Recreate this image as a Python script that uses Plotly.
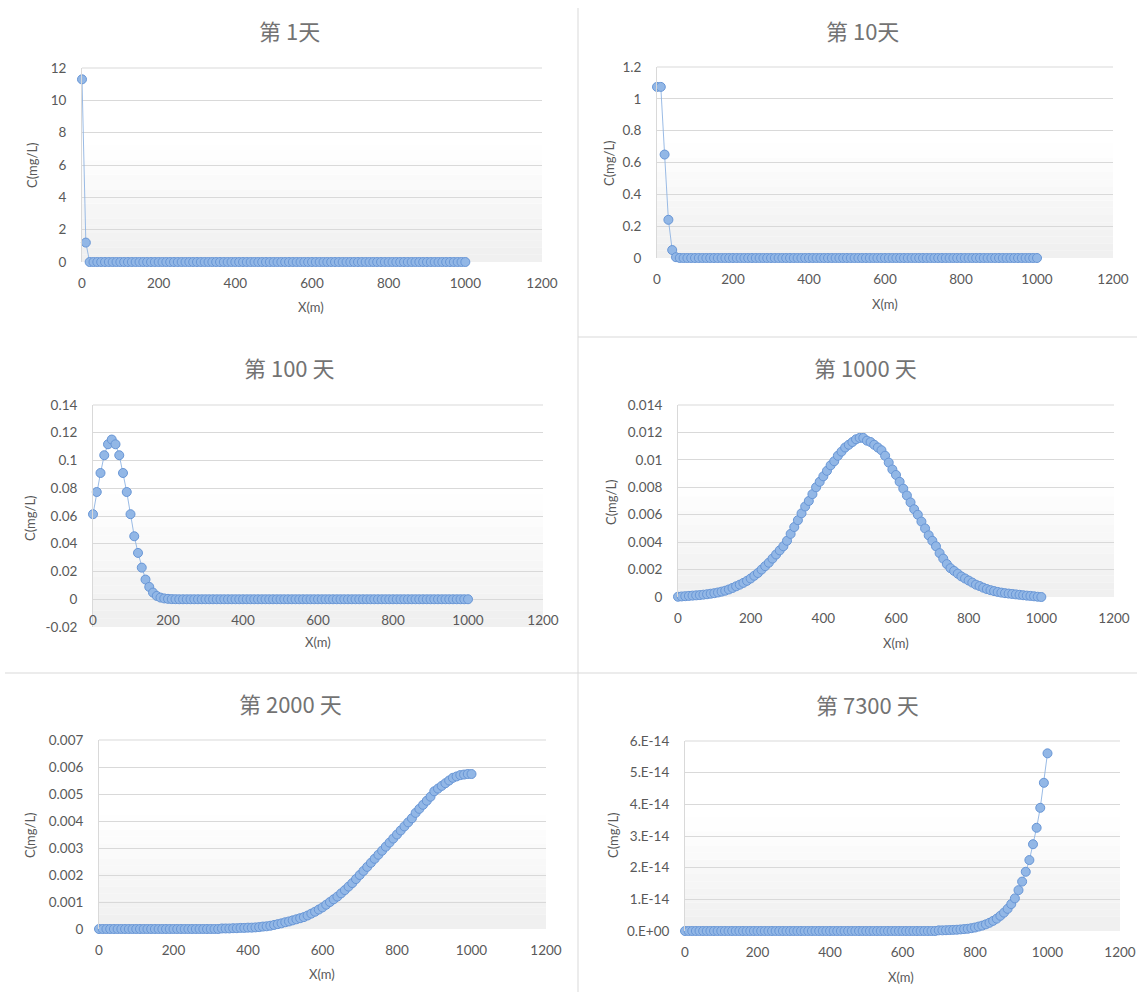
import plotly.graph_objects as go

# ---------------- data ----------------
x_m = [0, 10, 20, 30, 40, 50, 60, 70, 80, 90,
       100, 110, 120, 130, 140, 150, 160, 170, 180, 190,
       200, 210, 220, 230, 240, 250, 260, 270, 280, 290,
       300, 310, 320, 330, 340, 350, 360, 370, 380, 390,
       400, 410, 420, 430, 440, 450, 460, 470, 480, 490,
       500, 510, 520, 530, 540, 550, 560, 570, 580, 590,
       600, 610, 620, 630, 640, 650, 660, 670, 680, 690,
       700, 710, 720, 730, 740, 750, 760, 770, 780, 790,
       800, 810, 820, 830, 840, 850, 860, 870, 880, 890,
       900, 910, 920, 930, 940, 950, 960, 970, 980, 990,
       1000]

c_day1 = [11.3, 1.2, 0, 0, 0, 0, 0, 0, 0, 0,
          0, 0, 0, 0, 0, 0, 0, 0, 0, 0,
          0, 0, 0, 0, 0, 0, 0, 0, 0, 0,
          0, 0, 0, 0, 0, 0, 0, 0, 0, 0,
          0, 0, 0, 0, 0, 0, 0, 0, 0, 0,
          0, 0, 0, 0, 0, 0, 0, 0, 0, 0,
          0, 0, 0, 0, 0, 0, 0, 0, 0, 0,
          0, 0, 0, 0, 0, 0, 0, 0, 0, 0,
          0, 0, 0, 0, 0, 0, 0, 0, 0, 0,
          0, 0, 0, 0, 0, 0, 0, 0, 0, 0,
          0]

c_day10 = [1.075, 1.075, 0.65, 0.24, 0.05, 0.005, 0.0003, 0, 0, 0,
           0, 0, 0, 0, 0, 0, 0, 0, 0, 0,
           0, 0, 0, 0, 0, 0, 0, 0, 0, 0,
           0, 0, 0, 0, 0, 0, 0, 0, 0, 0,
           0, 0, 0, 0, 0, 0, 0, 0, 0, 0,
           0, 0, 0, 0, 0, 0, 0, 0, 0, 0,
           0, 0, 0, 0, 0, 0, 0, 0, 0, 0,
           0, 0, 0, 0, 0, 0, 0, 0, 0, 0,
           0, 0, 0, 0, 0, 0, 0, 0, 0, 0,
           0, 0, 0, 0, 0, 0, 0, 0, 0, 0,
           0]

c_day100 = [0.0613, 0.0773, 0.091, 0.1038, 0.1117, 0.1151, 0.1117, 0.1038, 0.091, 0.0773,
            0.0613, 0.0454, 0.0334, 0.0228, 0.0142, 0.0089, 0.0048, 0.0024, 0.0012, 0.0006,
            0.0003, 0.0001, 0.00005, 0, 0, 0, 0, 0, 0, 0,
            0, 0, 0, 0, 0, 0, 0, 0, 0, 0,
            0, 0, 0, 0, 0, 0, 0, 0, 0, 0,
            0, 0, 0, 0, 0, 0, 0, 0, 0, 0,
            0, 0, 0, 0, 0, 0, 0, 0, 0, 0,
            0, 0, 0, 0, 0, 0, 0, 0, 0, 0,
            0, 0, 0, 0, 0, 0, 0, 0, 0, 0,
            0, 0, 0, 0, 0, 0, 0, 0, 0, 0,
            0]

c_day1000 = [0.00002, 0.00004, 0.00006, 0.00008, 0.0001, 0.00012, 0.00014, 0.00017, 0.0002, 0.00024,
             0.00028, 0.00033, 0.00039, 0.00046, 0.00055, 0.00066, 0.00078, 0.0009, 0.00103, 0.00118,
             0.00135, 0.00155, 0.00175, 0.002, 0.00225, 0.0025, 0.0028, 0.0031, 0.0034, 0.0037,
             0.0041, 0.0046, 0.0051, 0.0056, 0.0061, 0.0066, 0.007, 0.0075, 0.008, 0.0084,
             0.0088, 0.0092, 0.0096, 0.0099, 0.0103, 0.0106, 0.0109, 0.0111, 0.0113, 0.0115,
             0.0116, 0.0116, 0.0114, 0.0113, 0.0111, 0.0109, 0.0107, 0.0103, 0.0098, 0.0093,
             0.0089, 0.0084, 0.0079, 0.0074, 0.0069, 0.0064, 0.006, 0.0055, 0.005, 0.0045,
             0.0041, 0.0037, 0.0032, 0.0028, 0.0024, 0.0021, 0.0019, 0.0017, 0.0015, 0.00135,
             0.0012, 0.00105, 0.0009, 0.0008, 0.00068, 0.00058, 0.0005, 0.00043, 0.00037, 0.00032,
             0.00028, 0.00025, 0.00022, 0.00019, 0.00016, 0.00013, 0.0001, 0.00008, 0.00005, 0.00002,
             0.0]

c_day2000 = [0, 0, 0, 0, 0, 0, 0, 0, 0, 0,
             0, 0, 0, 0, 0, 0, 0, 0, 0, 0,
             0, 0, 0, 0, 0, 0, 0, 0, 0, 0,
             0, 0, 0, 0.00002, 0.00002, 0.00002, 0.00003, 0.00003, 0.00004, 0.00004,
             0.00005, 0.00005, 0.00006, 0.00007, 0.00009, 0.0001, 0.00012, 0.00015, 0.00018, 0.00021,
             0.00025, 0.00028, 0.00032, 0.00036, 0.0004, 0.00044, 0.0005, 0.00057, 0.00064, 0.00072,
             0.0008, 0.0009, 0.001, 0.0011, 0.0012, 0.00132, 0.00144, 0.00157, 0.0017, 0.00185,
             0.002, 0.00215, 0.0023, 0.00245, 0.0026, 0.00275, 0.0029, 0.00305, 0.0032, 0.00335,
             0.0035, 0.00365, 0.0038, 0.00395, 0.0041, 0.0043, 0.00445, 0.0046, 0.00475, 0.0049,
             0.0051, 0.0052, 0.0053, 0.0054, 0.0055, 0.0056, 0.00565, 0.0057, 0.00572, 0.00574,
             0.00574]

c_day7300 = [0, 0, 0, 0, 0, 0, 0, 0, 0, 0,
             0, 0, 0, 0, 0, 0, 0, 0, 0, 0,
             0, 0, 0, 0, 0, 0, 0, 0, 0, 0,
             0, 0, 0, 0, 0, 0, 0, 0, 0, 0,
             0, 0, 0, 0, 0, 0, 0, 0, 0, 0,
             0, 0, 0, 0, 0, 0, 0, 0, 0, 0,
             0, 0, 0, 0, 0, 0, 0, 0, 0, 0,
             2.0e-16, 2.0e-16, 2.5e-16, 3.0e-16, 3.5e-16, 4.0e-16, 5.0e-16, 6.0e-16, 7.0e-16, 9.0e-16,
             1.1e-15, 1.4e-15, 1.7e-15, 2.1e-15, 2.6e-15, 3.2e-15, 3.9e-15, 4.8e-15, 5.8e-15, 7.0e-15,
             8.5e-15, 1.03e-14, 1.29e-14, 1.56e-14, 1.87e-14, 2.24e-14, 2.74e-14, 3.26e-14, 3.89e-14, 4.68e-14,
             5.61e-14]

titles = ["第 1天", "第 10天", "第 100 天", "第 1000 天", "第 2000 天", "第 7300 天"]
x_title = "X(m)"
y_title = "C(mg/L)"

x_tickvals = [0, 200, 400, 600, 800, 1000, 1200]
x_ticktext = ["0", "200", "400", "600", "800", "1000", "1200"]

y_tickvals = [
    [0, 2, 4, 6, 8, 10, 12],
    [0, 0.2, 0.4, 0.6, 0.8, 1.0, 1.2],
    [-0.02, 0, 0.02, 0.04, 0.06, 0.08, 0.1, 0.12, 0.14],
    [0, 0.002, 0.004, 0.006, 0.008, 0.01, 0.012, 0.014],
    [0, 0.001, 0.002, 0.003, 0.004, 0.005, 0.006, 0.007],
    [0, 1e-14, 2e-14, 3e-14, 4e-14, 5e-14, 6e-14],
]
y_ticktext = [
    ["0", "2", "4", "6", "8", "10", "12"],
    ["0", "0.2", "0.4", "0.6", "0.8", "1", "1.2"],
    ["-0.02", "0", "0.02", "0.04", "0.06", "0.08", "0.1", "0.12", "0.14"],
    ["0", "0.002", "0.004", "0.006", "0.008", "0.01", "0.012", "0.014"],
    ["0", "0.001", "0.002", "0.003", "0.004", "0.005", "0.006", "0.007"],
    ["0.E+00", "1.E-14", "2.E-14", "3.E-14", "4.E-14", "5.E-14", "6.E-14"],
]
y_ranges = [[0, 12], [0, 1.2], [-0.02, 0.14], [0, 0.014], [0, 0.007], [0, 6e-14]]
series = [c_day1, c_day10, c_day100, c_day1000, c_day2000, c_day7300]

# ---------------- layout geometry (pixels) ----------------
W, H = 1137, 992
# plot area: left, right, top, bottom
boxes = [(82, 542, 68, 262), (657, 1113, 67, 258),
         (93, 543, 405, 627), (678, 1114, 405, 597),
         (99, 546, 740, 929), (685, 1120, 741, 931)]
title_pos = [(289, 30), (862, 30), (289, 367), (865, 367), (290, 703), (867, 704)]
ytitle_pos = [(32, 165), (609, 163), (30, 518), (611, 502), (30, 835), (613, 835)]
xtitle_pos = [(311, 307), (885, 304), (318, 642), (896, 643), (322, 974), (901, 977)]

def fx(px):
    return px / W

def fy(py):
    return 1 - py / H

GRID = "#d9d9d9"
TXT = "#595959"
TITLE = "#737373"
LATIN = "Lato, 'Noto Sans', sans-serif"
CJK = "'Noto Sans CJK SC', 'Noto Sans', sans-serif"

fig = go.Figure()
layout = dict(template="none", width=W, height=H, margin=dict(l=0, r=0, t=0, b=0, pad=0),
              paper_bgcolor="white", plot_bgcolor="white", showlegend=False)
shapes = []
annotations = []

for i in range(6):
    n = "" if i == 0 else str(i + 1)
    l, r, t, b = boxes[i]
    xa = dict(domain=[fx(l), fx(r)], range=[0, 1200], tickvals=x_tickvals, ticktext=x_ticktext,
              showgrid=False, zeroline=False, showline=False, automargin=False,
              ticks="outside", ticklen=9, tickcolor="rgba(0,0,0,0)",
              tickfont=dict(family=LATIN, size=13.5, color=TXT), anchor="y" + n)
    if i == 2:
        # horizontal axis crosses at zero
        zero_px = b - (0 - y_ranges[i][0]) / (y_ranges[i][1] - y_ranges[i][0]) * (b - t)
        xa.update(anchor="free", position=fy(zero_px))
    ya = dict(domain=[fy(b), fy(t)], range=y_ranges[i], tickvals=y_tickvals[i], ticktext=y_ticktext[i],
              showgrid=True, gridcolor=GRID, gridwidth=1, zeroline=False, automargin=False,
              showline=True, linecolor=GRID, linewidth=1,
              ticks="outside", ticklen=12, tickcolor="rgba(0,0,0,0)",
              tickfont=dict(family=LATIN, size=13.5, color=TXT), anchor="x" + n)
    layout["xaxis" + n] = xa
    layout["yaxis" + n] = ya

    # plot-area gradient (white -> light grey toward the bottom)
    nb = 16
    for k in range(nb):
        y0 = 0.6 * k / nb
        y1 = 0.6 * (k + 1) / nb
        g = int(round(239 + (255 - 239) * (k + 0.5) / nb))
        shapes.append(dict(type="rect", xref="x" + n + " domain", yref="y" + n + " domain",
                           x0=0, x1=1, y0=y0, y1=y1, fillcolor=f"rgb({g},{g},{g})",
                           line=dict(width=0), layer="below"))
    # top gridline at the upper edge of the plot area
    shapes.append(dict(type="line", xref="x" + n + " domain", yref="y" + n + " domain",
                       x0=0, x1=1, y0=1, y1=1, line=dict(color=GRID, width=1), layer="below"))

    fig.add_trace(go.Scatter(
        x=x_m, y=series[i], mode="lines+markers", xaxis="x" + n, yaxis="y" + n,
        line=dict(color="rgba(143,180,226,0.9)", width=1),
        marker=dict(size=9, color="rgb(146,183,230)", line=dict(color="rgb(104,150,214)", width=1)),
        cliponaxis=False, hoverinfo="x+y"))

    annotations.append(dict(text=titles[i], x=fx(title_pos[i][0]), y=fy(title_pos[i][1]),
                            xref="paper", yref="paper", showarrow=False, xanchor="center", yanchor="middle",
                            font=dict(family=CJK, size=22, color=TITLE)))
    annotations.append(dict(text=y_title, x=fx(ytitle_pos[i][0]), y=fy(ytitle_pos[i][1]),
                            xref="paper", yref="paper", showarrow=False, textangle=-90,
                            xanchor="center", yanchor="middle",
                            font=dict(family=LATIN, size=13, color=TXT)))
    annotations.append(dict(text=x_title, x=fx(xtitle_pos[i][0]), y=fy(xtitle_pos[i][1]),
                            xref="paper", yref="paper", showarrow=False,
                            xanchor="center", yanchor="middle",
                            font=dict(family=LATIN, size=13, color=TXT)))

# chart-box separators
sep = dict(color="#d9d9d9", width=1)
shapes.append(dict(type="line", xref="paper", yref="paper", x0=fx(578), x1=fx(578), y0=fy(8), y1=fy(992), line=sep))
shapes.append(dict(type="line", xref="paper", yref="paper", x0=fx(578), x1=fx(1137), y0=fy(337), y1=fy(337), line=sep))
shapes.append(dict(type="line", xref="paper", yref="paper", x0=fx(5), x1=fx(1137), y0=fy(673), y1=fy(673), line=sep))

layout["shapes"] = shapes
layout["annotations"] = annotations
fig.update_layout(**layout)

fig.write_html("out.html", config={"displayModeBar": False},
               post_script="document.body.style.margin='0';document.body.style.overflow='hidden';")
